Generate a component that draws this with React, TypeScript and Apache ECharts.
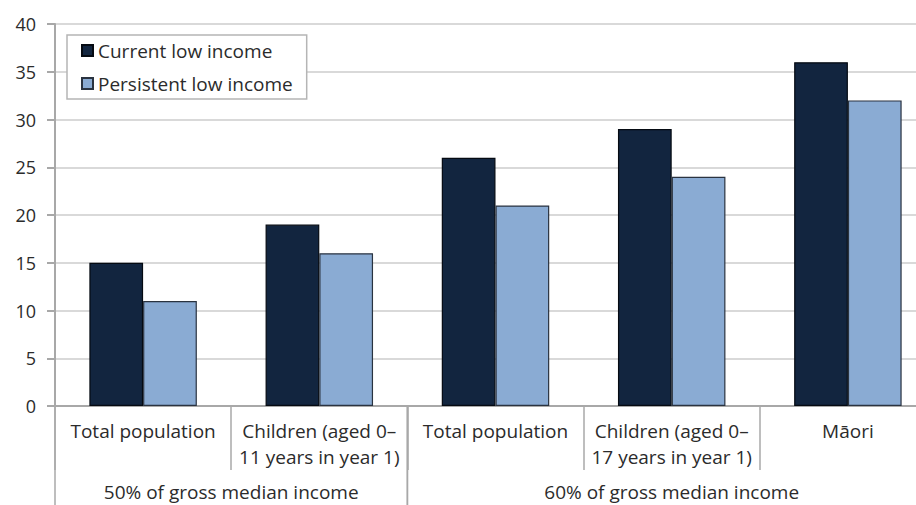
import React, { useEffect, useRef } from "react";
import * as echarts from "echarts";

const categories = [
  "Total population",
  "Children (aged 0–\n11 years in year 1)",
  "Total population",
  "Children (aged 0–\n17 years in year 1)",
  "Māori",
];
const currentLowIncome = [15, 19, 26, 29, 36];
const persistentLowIncome = [11, 16, 21, 24, 32];
// Each group spans a run of categories: [label, first index, count]
const groups: [string, number, number][] = [
  ["50% of gross median income", 0, 2],
  ["60% of gross median income", 2, 3],
];
const yTicks = { min: 0, max: 40, interval: 5 };

const FONT = "'Open Sans', 'Noto Sans', sans-serif";
const TEXT = "#2b2b2b";
const AXIS = "#a8a8a8";

export default function App() {
  const ref = useRef<HTMLDivElement>(null);

  useEffect(() => {
    if (!ref.current) return;
    const chart = echarts.init(ref.current, undefined, { renderer: "svg" });
    chart.setOption({
      animation: false,
      textStyle: { fontFamily: FONT },
      // the plot runs past the right edge of the visible frame
      grid: { left: 55, right: 4, top: 24, bottom: 99 },
      legend: {
        orient: "vertical",
        left: 67,
        top: 35,
        padding: [6, 14, 6, 14],
        itemGap: 14,
        itemWidth: 11,
        itemHeight: 11,
        icon: "rect",
        backgroundColor: "#fff",
        borderColor: "#b5b5b5",
        borderWidth: 1.5,
        borderRadius: 0,
        textStyle: { fontSize: 19, color: TEXT, fontFamily: FONT, padding: [0, 0, 0, 0] },
      },
      xAxis: {
        type: "category",
        data: categories,
        axisLine: { show: true, lineStyle: { color: AXIS, width: 2 } },
        axisTick: { show: true, interval: 0, length: 64, lineStyle: { color: AXIS, width: 1.5 } },
        axisLabel: {
          interval: 0,
          margin: 12,
          fontSize: 19,
          lineHeight: 26,
          color: TEXT,
          fontFamily: FONT,
          verticalAlign: "top",
        },
      },
      yAxis: {
        type: "value",
        min: yTicks.min,
        max: yTicks.max,
        interval: yTicks.interval,
        axisLine: { show: true, lineStyle: { color: AXIS, width: 2 } },
        axisTick: { show: true, length: 8, lineStyle: { color: AXIS, width: 2 } },
        axisLabel: { fontSize: 18, color: TEXT, margin: 19, fontFamily: FONT },
        splitLine: { show: true, lineStyle: { color: "#d9d9d9", width: 2 } },
      },
      series: [
        {
          name: "Current low income",
          type: "bar",
          data: currentLowIncome,
          barGap: "0%",
          barCategoryGap: "39%",
          itemStyle: { color: "#12253f", borderColor: "#050a12", borderWidth: 1.2 },
        },
        {
          name: "Persistent low income",
          type: "bar",
          data: persistentLowIncome,
          itemStyle: { color: "#8aabd3", borderColor: "#2a3340", borderWidth: 1.2 },
        },
      ],
    });

    // Group separators and labels, placed from the category axis scale
    const y0 = chart.convertToPixel({ yAxisIndex: 0 }, 0) as number;
    const step =
      (chart.convertToPixel({ xAxisIndex: 0 }, 1) as number) -
      (chart.convertToPixel({ xAxisIndex: 0 }, 0) as number);
    const edge = (i: number) => (chart.convertToPixel({ xAxisIndex: 0 }, i) as number) - step / 2;
    const elements: any[] = [];
    groups.forEach(([label, start, count]) => {
      const x1 = edge(start);
      const x2 = edge(start + count);
      [x1, x2].forEach((x) =>
        elements.push({
          type: "line",
          shape: { x1: x, y1: y0, x2: x, y2: 510 },
          style: { stroke: AXIS, lineWidth: 1.5 },
          silent: true,
        })
      );
      elements.push({
        type: "text",
        x: (x1 + x2) / 2,
        y: 492,
        style: {
          text: label,
          fontSize: 19,
          fontFamily: FONT,
          fill: TEXT,
          align: "center",
          verticalAlign: "middle",
        },
        silent: true,
      });
    });
    chart.setOption({ graphic: elements });

    return () => chart.dispose();
  }, []);

  return (
    <div
      style={{
        position: "fixed",
        left: 0,
        top: 0,
        width: 916,
        height: 505,
        overflow: "hidden",
        background: "#fff",
      }}
    >
      <div ref={ref} style={{ width: 940, height: 505 }} />
    </div>
  );
}
